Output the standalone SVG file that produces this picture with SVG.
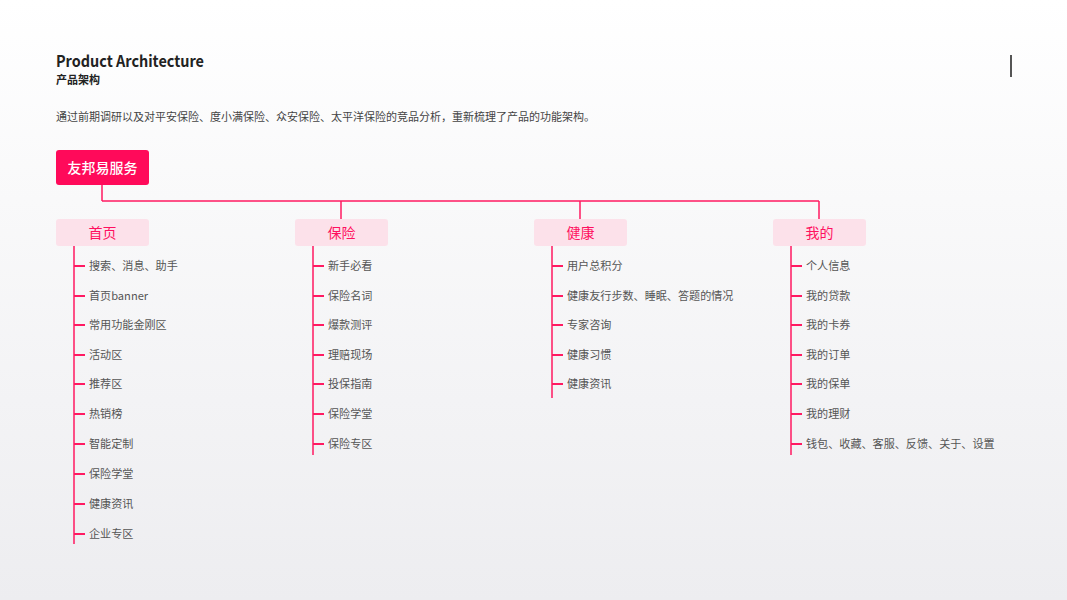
<svg xmlns="http://www.w3.org/2000/svg" width="1067" height="600" viewBox="0 0 1067 600">
<defs>
<linearGradient id="bg" x1="0" y1="0" x2="0" y2="1">
<stop offset="0" stop-color="#ffffff"/>
<stop offset="1" stop-color="#ededf0"/>
</linearGradient>
<style>
.t{font-family:"Noto Sans CJK SC","Noto Sans",sans-serif}
.item{font-family:"Noto Sans CJK SC","Noto Sans",sans-serif;font-size:11.1px;fill:#555}
.cat{fill:#fce1ea}
.catT{font-family:"Noto Sans CJK SC",sans-serif;font-size:14px;fill:#ff1060;text-anchor:middle}
.ln{stroke:#ff1a62;stroke-width:1.5;fill:none}
.tk{stroke:#ff1a62;stroke-width:2;fill:none}
</style>
</defs>
<rect width="1067" height="600" fill="url(#bg)"/>
<g id="header">
<text x="56" y="67" class="t" font-size="16" font-weight="bold" fill="#222" textLength="148" lengthAdjust="spacingAndGlyphs">Product Architecture</text>
<text x="56" y="84" class="t" font-size="11" font-weight="bold" fill="#222">产品架构</text>
<text x="56" y="121" class="t" font-size="11" fill="#444">通过前期调研以及对平安保险、度小满保险、众安保险、太平洋保险的竞品分析，重新梳理了产品的功能架构。</text>
<rect x="1010" y="55" width="2" height="22" fill="#555"/>
</g>
<g id="connectors">
<path class="ln" d="M102 185V201M102 201H819M341 201V219M580 201V219M819 201V219"/>
<path class="ln" d="M74 246V544M313 246V455M552 246V398M791 246V455"/>
<path class="tk" d="M74 266H85M74 296H85M74 325H85M74 355H85M74 384H85M74 414H85M74 444H85M74 474H85M74 504H85M74 534H85"/>
<path class="tk" d="M313 266H324M313 296H324M313 325H324M313 355H324M313 384H324M313 414H324M313 444H324"/>
<path class="tk" d="M552 266H563M552 296H563M552 325H563M552 355H563M552 384H563"/>
<path class="tk" d="M791 266H802M791 296H802M791 325H802M791 355H802M791 384H802M791 414H802M791 444H802"/>
</g>
<g id="root">
<rect x="56" y="150" width="93" height="35" rx="3" fill="#ff0a5a"/>
<text x="102.5" y="172.5" class="t" font-size="14" font-weight="500" fill="#fff" text-anchor="middle">友邦易服务</text>
</g>
<g id="cat-home">
<rect class="cat" x="56" y="219" width="93" height="27" rx="3"/>
<text class="catT" x="102.5" y="237.5">首页</text>
<text class="item" x="89" y="270">搜索、消息、助手</text>
<text class="item" x="89" y="300">首页banner</text>
<text class="item" x="89" y="329">常用功能金刚区</text>
<text class="item" x="89" y="359">活动区</text>
<text class="item" x="89" y="388">推荐区</text>
<text class="item" x="89" y="418">热销榜</text>
<text class="item" x="89" y="448">智能定制</text>
<text class="item" x="89" y="478">保险学堂</text>
<text class="item" x="89" y="508">健康资讯</text>
<text class="item" x="89" y="538">企业专区</text>
</g>
<g id="cat-insurance">
<rect class="cat" x="295" y="219" width="93" height="27" rx="3"/>
<text class="catT" x="341.5" y="237.5">保险</text>
<text class="item" x="328" y="270">新手必看</text>
<text class="item" x="328" y="300">保险名词</text>
<text class="item" x="328" y="329">爆款测评</text>
<text class="item" x="328" y="359">理赔现场</text>
<text class="item" x="328" y="388">投保指南</text>
<text class="item" x="328" y="418">保险学堂</text>
<text class="item" x="328" y="448">保险专区</text>
</g>
<g id="cat-health">
<rect class="cat" x="534" y="219" width="93" height="27" rx="3"/>
<text class="catT" x="580.5" y="237.5">健康</text>
<text class="item" x="567" y="270">用户总积分</text>
<text class="item" x="567" y="300">健康友行步数、睡眠、答题的情况</text>
<text class="item" x="567" y="329">专家咨询</text>
<text class="item" x="567" y="359">健康习惯</text>
<text class="item" x="567" y="388">健康资讯</text>
</g>
<g id="cat-mine">
<rect class="cat" x="773" y="219" width="93" height="27" rx="3"/>
<text class="catT" x="819.5" y="237.5">我的</text>
<text class="item" x="806" y="270">个人信息</text>
<text class="item" x="806" y="300">我的贷款</text>
<text class="item" x="806" y="329">我的卡券</text>
<text class="item" x="806" y="359">我的订单</text>
<text class="item" x="806" y="388">我的保单</text>
<text class="item" x="806" y="418">我的理财</text>
<text class="item" x="806" y="448">钱包、收藏、客服、反馈、关于、设置</text>
</g>
</svg>
